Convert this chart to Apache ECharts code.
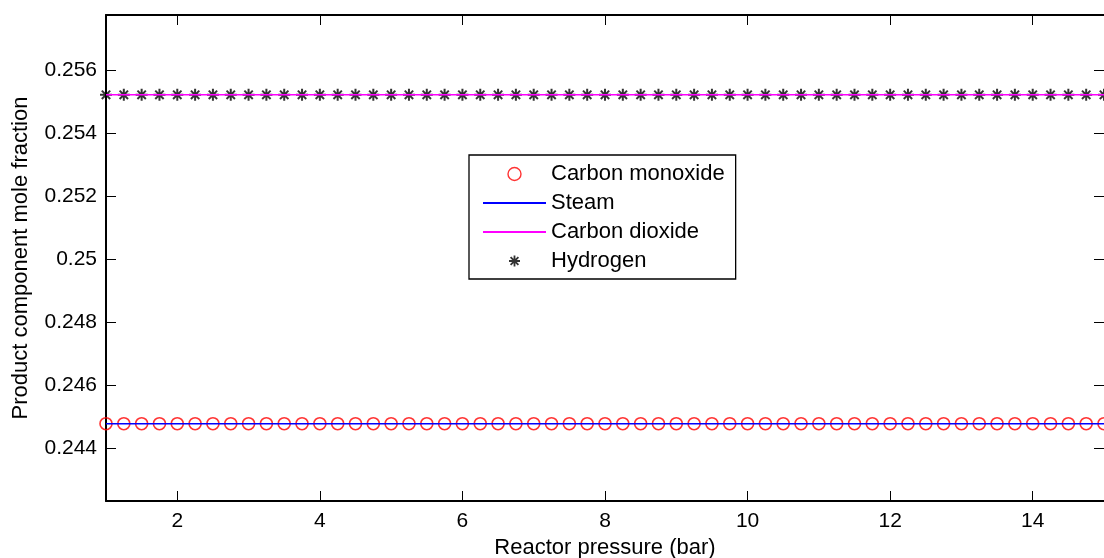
<!DOCTYPE html>
<html>
<head>
<meta charset="utf-8">
<script src="https://cdn.jsdelivr.net/npm/echarts@6/dist/echarts.min.js"></script>
<style>
  html, body { margin: 0; padding: 0; background: #fff; }
  #chart { width: 1104px; height: 558px; }
</style>
</head>
<body>
<div id="chart"></div>
<script>
// Reactor pressure samples (bar)
const pressure = [
  1, 1.25, 1.5, 1.75, 2, 2.25, 2.5, 2.75, 3, 3.25, 3.5, 3.75,
  4, 4.25, 4.5, 4.75, 5, 5.25, 5.5, 5.75, 6, 6.25, 6.5, 6.75,
  7, 7.25, 7.5, 7.75, 8, 8.25, 8.5, 8.75, 9, 9.25, 9.5, 9.75,
  10, 10.25, 10.5, 10.75, 11, 11.25, 11.5, 11.75, 12, 12.25, 12.5, 12.75,
  13, 13.25, 13.5, 13.75, 14, 14.25, 14.5, 14.75, 15
];

// Product mole fractions at each pressure
const carbonMonoxide = [
  0.24479, 0.24479, 0.24479, 0.24479, 0.24479, 0.24479, 0.24479, 0.24479, 0.24479, 0.24479, 0.24479, 0.24479,
  0.24479, 0.24479, 0.24479, 0.24479, 0.24479, 0.24479, 0.24479, 0.24479, 0.24479, 0.24479, 0.24479, 0.24479,
  0.24479, 0.24479, 0.24479, 0.24479, 0.24479, 0.24479, 0.24479, 0.24479, 0.24479, 0.24479, 0.24479, 0.24479,
  0.24479, 0.24479, 0.24479, 0.24479, 0.24479, 0.24479, 0.24479, 0.24479, 0.24479, 0.24479, 0.24479, 0.24479,
  0.24479, 0.24479, 0.24479, 0.24479, 0.24479, 0.24479, 0.24479, 0.24479, 0.24479
];
const steam = [
  0.24479, 0.24479, 0.24479, 0.24479, 0.24479, 0.24479, 0.24479, 0.24479, 0.24479, 0.24479, 0.24479, 0.24479,
  0.24479, 0.24479, 0.24479, 0.24479, 0.24479, 0.24479, 0.24479, 0.24479, 0.24479, 0.24479, 0.24479, 0.24479,
  0.24479, 0.24479, 0.24479, 0.24479, 0.24479, 0.24479, 0.24479, 0.24479, 0.24479, 0.24479, 0.24479, 0.24479,
  0.24479, 0.24479, 0.24479, 0.24479, 0.24479, 0.24479, 0.24479, 0.24479, 0.24479, 0.24479, 0.24479, 0.24479,
  0.24479, 0.24479, 0.24479, 0.24479, 0.24479, 0.24479, 0.24479, 0.24479, 0.24479
];
const carbonDioxide = [
  0.25521, 0.25521, 0.25521, 0.25521, 0.25521, 0.25521, 0.25521, 0.25521, 0.25521, 0.25521, 0.25521, 0.25521,
  0.25521, 0.25521, 0.25521, 0.25521, 0.25521, 0.25521, 0.25521, 0.25521, 0.25521, 0.25521, 0.25521, 0.25521,
  0.25521, 0.25521, 0.25521, 0.25521, 0.25521, 0.25521, 0.25521, 0.25521, 0.25521, 0.25521, 0.25521, 0.25521,
  0.25521, 0.25521, 0.25521, 0.25521, 0.25521, 0.25521, 0.25521, 0.25521, 0.25521, 0.25521, 0.25521, 0.25521,
  0.25521, 0.25521, 0.25521, 0.25521, 0.25521, 0.25521, 0.25521, 0.25521, 0.25521
];
const hydrogen = [
  0.25521, 0.25521, 0.25521, 0.25521, 0.25521, 0.25521, 0.25521, 0.25521, 0.25521, 0.25521, 0.25521, 0.25521,
  0.25521, 0.25521, 0.25521, 0.25521, 0.25521, 0.25521, 0.25521, 0.25521, 0.25521, 0.25521, 0.25521, 0.25521,
  0.25521, 0.25521, 0.25521, 0.25521, 0.25521, 0.25521, 0.25521, 0.25521, 0.25521, 0.25521, 0.25521, 0.25521,
  0.25521, 0.25521, 0.25521, 0.25521, 0.25521, 0.25521, 0.25521, 0.25521, 0.25521, 0.25521, 0.25521, 0.25521,
  0.25521, 0.25521, 0.25521, 0.25521, 0.25521, 0.25521, 0.25521, 0.25521, 0.25521
];

// Axis ticks and their labels
const xTicks = [2, 4, 6, 8, 10, 12, 14];
const xTickLabels = ['2', '4', '6', '8', '10', '12', '14'];
const yTicks = [0.244, 0.246, 0.248, 0.25, 0.252, 0.254, 0.256];
const yTickLabels = ['0.244', '0.246', '0.248', '0.25', '0.252', '0.254', '0.256'];

const FONT = '"Liberation Sans", Arial, Helvetica, sans-serif';

function pairs(xs, ys) {
  return xs.map((x, i) => [x, ys[i]]);
}
function labelFor(ticks, labels) {
  return function (v) {
    for (let i = 0; i < ticks.length; i++) {
      if (Math.abs(ticks[i] - v) < 1e-9) return labels[i];
    }
    return '';
  };
}

// Eight-armed star marker (plus + cross), drawn as strokes
const starSymbol = 'path://M0,5L10,5M5,0L5,10M1.5,1.5L8.5,8.5M8.5,1.5L1.5,8.5';
// Same star centred inside a box the size of a legend icon
const starLegendIcon = 'path://M0,0M63,13M26,6.5L37,6.5M31.5,1L31.5,12M27.6,2.6L35.4,10.4M35.4,2.6L27.6,10.4';

const axisLineStyle = { color: '#000', width: 2 };
const tickLineStyle = { color: '#000', width: 1 };
// Hides the centre dot that line series put on their legend icon
const plainLineIcon = { color: 'transparent', borderWidth: 0, opacity: 0 };

const chart = echarts.init(document.getElementById('chart'), null, { renderer: 'canvas' });

chart.setOption({
  animation: false,
  backgroundColor: '#fff',
  textStyle: { fontFamily: FONT, color: '#000' },
  grid: { left: 106, right: 0, top: 15, bottom: 57, containLabel: false, outerBoundsMode: 'none' },
  legend: {
    orient: 'vertical',
    left: 469,
    top: 155,
    padding: [8, 11, 7, 13],
    itemWidth: 63,
    itemHeight: 13,
    itemGap: 7,
    backgroundColor: '#fff',
    borderColor: '#000',
    borderWidth: 1.3,
    borderRadius: 0,
    selectedMode: false,
    textStyle: { fontFamily: FONT, fontSize: 22, color: '#000' },
    data: [
      { name: 'Carbon monoxide', icon: 'circle',
        itemStyle: { color: 'transparent', borderColor: '#ff0000', borderWidth: 1.4 } },
      { name: 'Steam', itemStyle: plainLineIcon },
      { name: 'Carbon dioxide', itemStyle: plainLineIcon },
      { name: 'Hydrogen', icon: starLegendIcon,
        itemStyle: { color: '#000', borderColor: '#000', borderWidth: 1.8 } }
    ]
  },
  xAxis: [
    {
      type: 'value', min: 1, max: 15, position: 'bottom',
      axisLine: { show: true, onZero: false, lineStyle: axisLineStyle },
      axisTick: { show: true, inside: true, length: 10, customValues: xTicks, lineStyle: tickLineStyle },
      axisLabel: { show: true, customValues: xTicks, formatter: labelFor(xTicks, xTickLabels),
                   fontFamily: FONT, fontSize: 21, color: '#000', margin: 10 },
      splitLine: { show: false },
      name: 'Reactor pressure (bar)', nameLocation: 'middle', nameGap: 35,
      nameTextStyle: { fontFamily: FONT, fontSize: 22, color: '#000' }
    },
    {
      type: 'value', min: 1, max: 15, position: 'top',
      axisLine: { show: true, onZero: false, lineStyle: axisLineStyle },
      axisTick: { show: true, inside: true, length: 10, customValues: xTicks, lineStyle: tickLineStyle },
      axisLabel: { show: false },
      splitLine: { show: false }
    }
  ],
  yAxis: [
    {
      type: 'value', min: 0.24234, max: 0.25774, position: 'left',
      axisLine: { show: true, onZero: false, lineStyle: axisLineStyle },
      axisTick: { show: true, inside: true, length: 10, customValues: yTicks, lineStyle: tickLineStyle },
      axisLabel: { show: true, customValues: yTicks, formatter: labelFor(yTicks, yTickLabels),
                   fontFamily: FONT, fontSize: 21, color: '#000', margin: 9 },
      splitLine: { show: false },
      name: 'Product component mole fraction', nameLocation: 'middle', nameGap: 74,
      nameTextStyle: { fontFamily: FONT, fontSize: 22, color: '#000' }
    },
    {
      type: 'value', min: 0.24234, max: 0.25774, position: 'right',
      axisLine: { show: false, onZero: false, lineStyle: axisLineStyle },
      axisTick: { show: true, inside: true, length: 10, customValues: yTicks, lineStyle: tickLineStyle },
      axisLabel: { show: false },
      splitLine: { show: false }
    }
  ],
  series: [
    {
      name: 'Carbon monoxide', type: 'scatter',
      xAxisIndex: 0, yAxisIndex: 0,
      symbol: 'circle', symbolSize: 12,
      itemStyle: { color: 'transparent', borderColor: '#ff0000', borderWidth: 1.6 },
      data: pairs(pressure, carbonMonoxide)
    },
    {
      name: 'Steam', type: 'line',
      xAxisIndex: 0, yAxisIndex: 0,
      symbol: 'none', showSymbol: false,
      lineStyle: { color: '#0000ff', width: 1.5 },
      itemStyle: { color: '#0000ff' },
      data: pairs(pressure, steam)
    },
    {
      name: 'Carbon dioxide', type: 'line',
      xAxisIndex: 0, yAxisIndex: 0,
      symbol: 'none', showSymbol: false,
      lineStyle: { color: '#ff00ff', width: 1.5 },
      itemStyle: { color: '#ff00ff' },
      data: pairs(pressure, carbonDioxide)
    },
    {
      name: 'Hydrogen', type: 'scatter',
      xAxisIndex: 0, yAxisIndex: 0,
      symbol: starSymbol, symbolSize: 12,
      itemStyle: { color: '#000', borderColor: '#000', borderWidth: 2 },
      data: pairs(pressure, hydrogen)
    }
  ]
});
</script>
</body>
</html>
